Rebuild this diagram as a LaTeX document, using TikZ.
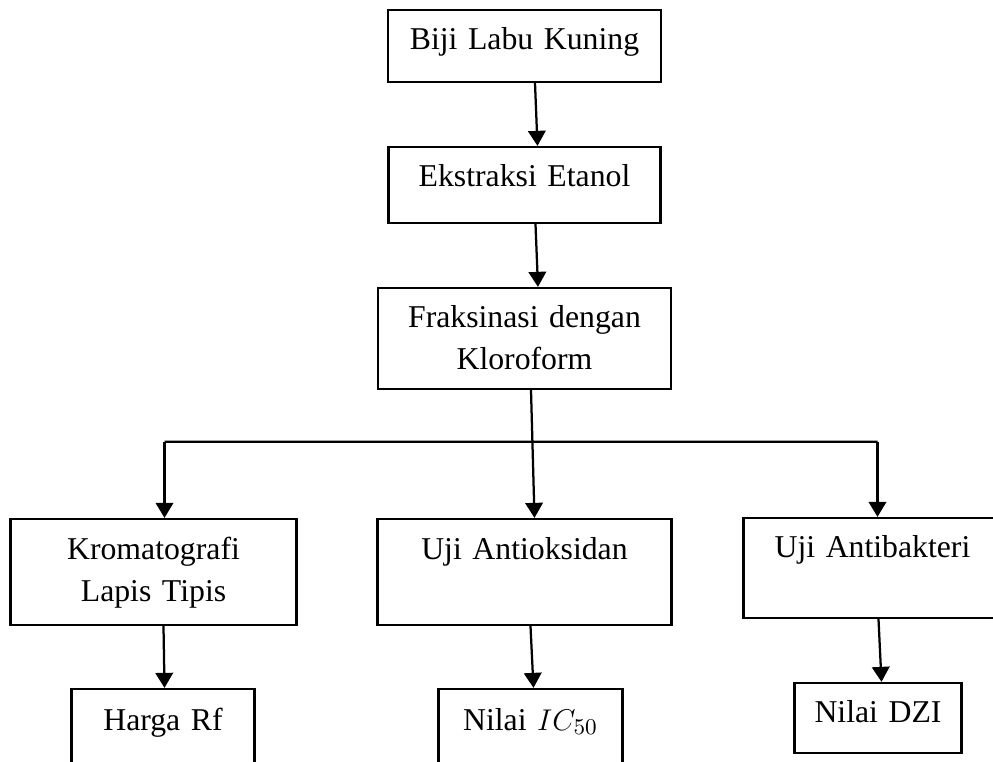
\documentclass[tikz,border=0pt]{standalone}
\usepackage{fontspec}
\setmainfont{Liberation Serif}
\usetikzlibrary{arrows.meta, positioning}
\tikzstyle{every picture} = [node distance=2cm]
\tikzstyle{flowbox} = [draw, line width=0.9pt, inner sep=0pt, align=center, font=\fontsize{12.7}{16.6}\selectfont]
\tikzstyle{linkarrow} = [-{Triangle[length=6pt,width=7pt]}, line width=0.9pt]

\begin{document}
\begin{tikzpicture}
			\useasboundingbox (0,0) rectangle (397.2pt,-304.8pt);
			\node (node biji) [flowbox, text width=109.2pt, text height=16pt, text depth=12.8pt] at (209.8pt,-18.4pt) {Biji Labu Kuning};
			\node (node ekstrak) [flowbox, text width=108.8pt, text height=16pt, text depth=14.4pt, below of=node biji, node distance=55.6pt] {Ekstraksi Etanol};
			\node (node fraksi) [flowbox, text width=117.2pt, text height=16pt, text depth=24.4pt, below of=node ekstrak, node distance=61.4pt] {Fraksinasi dengan\\Kloroform};
			\node (node antiox) [flowbox, text width=117.6pt, text height=16.4pt, text depth=26pt, below of=node fraksi, node distance=93.4pt] {Uji Antioksidan};
			\node (node klt) [flowbox, text width=114.4pt, text height=16.4pt, text depth=26pt, left of=node antiox, node distance=148.4pt] {Kromatografi\\Lapis Tipis};
			\node (node antibak) [flowbox, text width=103.2pt, text height=16pt, text depth=24pt, right of=node antiox, node distance=139.2pt, yshift=1.6pt] {Uji Antibakteri};
			\node (node rf) [flowbox, text width=73.2pt, text height=16.4pt, text depth=16pt, below of=node klt, node distance=63pt, xshift=3.8pt] {Harga Rf};
			\node (node ic) [flowbox, text width=73.6pt, text height=16.4pt, text depth=16pt, below of=node antiox, node distance=63pt, xshift=2.4pt] {Nilai $IC_{50}$};
			\node (node dzi) [flowbox, text width=66.8pt, text height=16pt, text depth=12pt, below of=node antibak, node distance=60pt, xshift=2.2pt] {Nilai DZI};
			\path ([xshift=4.2pt]node biji.south) edge[linkarrow] ([xshift=5.2pt]node ekstrak.north);
			\path ([xshift=4.4pt]node ekstrak.south) edge[linkarrow] ([xshift=5.4pt]node fraksi.north);
			\path ([xshift=2.6pt]node fraksi.south) edge[linkarrow] ([xshift=4pt]node antiox.north);
			\path ([xshift=4.4pt,yshift=30.4pt]node klt.north) coordinate (turn left) edge[linkarrow] ([xshift=4.4pt]node klt.north);
			\path ([xshift=2pt,yshift=30pt]node antibak.north) coordinate (turn right) edge[linkarrow] ([xshift=2pt]node antibak.north);
			\path (turn left) edge[line width=0.9pt] (turn right);
			\path ([xshift=4pt]node klt.south) edge[linkarrow] ([xshift=0.6pt]node rf.north);
			\path ([xshift=2.4pt]node antiox.south) edge[linkarrow] ([xshift=1.2pt]node ic.north);
			\path ([xshift=2.4pt]node antibak.south) edge[linkarrow] ([xshift=1.4pt]node dzi.north);
		\end{tikzpicture}
\end{document}
